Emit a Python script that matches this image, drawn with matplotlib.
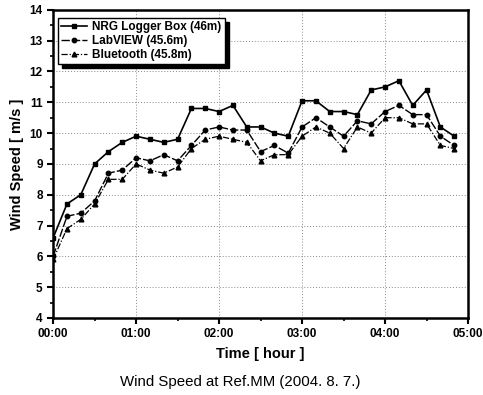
import numpy as np
import matplotlib
matplotlib.use("Agg")
import matplotlib.pyplot as plt
from matplotlib.ticker import MultipleLocator, FixedLocator

plt.rcParams['font.family'] = ['Liberation Sans', 'DejaVu Sans']

# time in hours, one sample every 10 minutes
time_h = np.arange(30) / 6.0

nrg = [6.6, 7.7, 8.0, 9.0, 9.4, 9.7, 9.9, 9.8, 9.7, 9.8,
       10.8, 10.8, 10.7, 10.9, 10.2, 10.2, 10.0, 9.9, 11.05, 11.05,
       10.7, 10.7, 10.6, 11.4, 11.5, 11.7, 10.9, 11.4, 10.2, 9.9]
labview = [6.0, 7.3, 7.4, 7.8, 8.7, 8.8, 9.2, 9.1, 9.3, 9.1,
           9.6, 10.1, 10.2, 10.1, 10.1, 9.4, 9.6, 9.35, 10.2, 10.5,
           10.2, 9.9, 10.4, 10.3, 10.7, 10.9, 10.6, 10.6, 9.9, 9.6]
bluetooth = [5.9, 6.9, 7.2, 7.7, 8.5, 8.5, 9.0, 8.8, 8.7, 8.9,
             9.5, 9.8, 9.9, 9.8, 9.7, 9.1, 9.3, 9.3, 9.9, 10.2,
             10.0, 9.5, 10.2, 10.0, 10.5, 10.5, 10.3, 10.3, 9.6, 9.5]

labels = ["NRG Logger Box (46m)", "LabVIEW (45.6m)", "Bluetooth (45.8m)"]
x_ticks = [0, 1, 2, 3, 4, 5]
x_ticklabels = ["00:00", "01:00", "02:00", "03:00", "04:00", "05:00"]

fig = plt.figure(figsize=(4.83, 3.95), dpi=100)
ax = fig.add_axes([0.110, 0.195, 0.859, 0.780])

ax.plot(time_h, nrg, color="black", lw=1.2, ls="-", marker="s", ms=3.2, label=labels[0])
ax.plot(time_h, labview, color="black", lw=1.0, ls=(0, (6, 1.5)), marker="o", ms=3.2, label=labels[1])
ax.plot(time_h, bluetooth, color="black", lw=0.9, ls=(0, (5, 1.5, 1, 1.5)), marker="^", ms=3.4, label=labels[2])

ax.set_xlim(0, 5)
ax.set_ylim(4, 14)
ax.xaxis.set_major_locator(FixedLocator(x_ticks))
ax.set_xticklabels(x_ticklabels)
ax.xaxis.set_minor_locator(MultipleLocator(0.5))
ax.yaxis.set_major_locator(MultipleLocator(1))
ax.yaxis.set_minor_locator(MultipleLocator(0.5))

ax.grid(True, which="major", color="#888888", ls=(0, (1, 2)), lw=0.7)
ax.tick_params(which="major", direction="out", length=4, width=1.5, labelsize=8.5)
ax.tick_params(which="minor", direction="out", length=2.5, width=1.2)
for lab in ax.get_xticklabels() + ax.get_yticklabels():
    lab.set_fontweight("bold")
for sp in ax.spines.values():
    sp.set_linewidth(1.8)

ax.set_xlabel("Time [ hour ]", fontsize=10.5, fontweight="bold", labelpad=5)
ax.set_ylabel("Wind Speed [ m/s ]", fontsize=10.5, fontweight="bold", labelpad=4)
fig.text(0.497, 0.022, "Wind Speed at Ref.MM (2004. 8. 7.)", ha="center", fontsize=10.8)

leg = ax.legend(loc="upper left", bbox_to_anchor=(0.0, 0.99), fontsize=8.5,
                frameon=True, fancybox=False,
                shadow={"color": "black", "alpha": 1.0, "ox": 3, "oy": -3},
                handlelength=2.2, handletextpad=0.4, borderpad=0.3,
                labelspacing=0.15, borderaxespad=0.4, framealpha=1.0)
leg.get_frame().set_edgecolor("black")
leg.get_frame().set_linewidth(1.0)
for t in leg.get_texts():
    t.set_fontweight("bold")

fig.savefig("out.png", dpi=100)
